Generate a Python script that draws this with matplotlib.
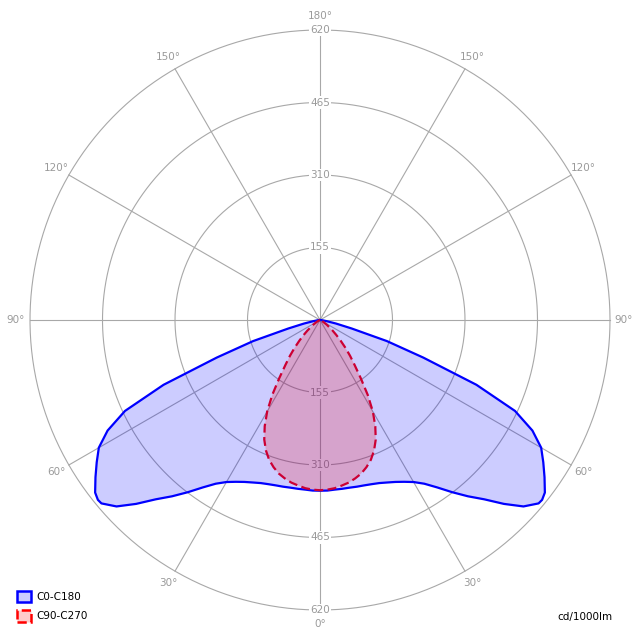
import numpy as np
import matplotlib
matplotlib.use("Agg")
import matplotlib.pyplot as plt
from matplotlib.patches import Patch

# gamma angles (deg) and intensities (cd/1000lm)
gamma_c0 = [0, 2.5, 5, 7.5, 10, 12.5, 15, 17.5, 20, 22.5, 25, 27.5, 30, 32.5, 35, 37.5,
            40, 42.5, 45, 47.5, 50, 51, 52.5, 55, 57.5, 60, 62.5, 65, 67.5, 70, 72.5,
            75, 77.5, 80, 85, 90]
cd_c0 = [365, 365, 364, 364, 364, 365, 366, 368, 371, 376, 382, 390, 400, 415, 437, 464,
         492, 520, 556, 590, 610, 611, 606, 586, 566, 546, 512, 460, 362, 235, 150,
         70, 35, 15, 4, 0]

gamma_c90 = [0, 2.5, 5, 7.5, 10, 12.5, 15, 17.5, 20, 22.5, 25, 27.5, 30, 32.5, 35, 37.5,
             40, 42.5, 45, 47.5, 50, 55, 60, 70, 90]
cd_c90 = [364, 363, 361, 357, 353, 347, 340, 330, 318, 302, 282, 256, 226, 190, 152, 122,
          100, 80, 62, 47, 35, 18, 8, 2, 0]

r_ticks = [155, 310, 465, 620]
angle_ticks = [0, 30, 60, 90, 120, 150, 180]
series_labels = ["C0-C180", "C90-C270"]
unit_label = "cd/1000lm"

def full_curve(g, v):
    g = np.asarray(g, float)
    v = np.asarray(v, float)
    th = np.concatenate([-g[::-1], g[1:]])
    rr = np.concatenate([v[::-1], v[1:]])
    return np.deg2rad(th), rr

fig = plt.figure(figsize=(6.4, 6.4), dpi=100)
rmax = 640.0
R_px = 290.0 * rmax / 620.0
size = 2 * R_px / 640.0
left = (320 - R_px) / 640.0
ax = fig.add_axes([left, left, size, size], projection="polar")
ax.set_theta_zero_location("S")
ax.set_theta_direction(1)
ax.set_ylim(0, rmax)
ax.spines["polar"].set_visible(False)
ax.set_xticks([])
ax.set_yticks([])
ax.grid(False)
ax.set_facecolor("white")

gcol = "#a8a8a8"
tt = np.linspace(0, 2 * np.pi, 400)
for r in r_ticks:
    ax.plot(tt, np.full_like(tt, r), color=gcol, lw=0.8, zorder=1)
for a in range(0, 360, 30):
    ax.plot([np.deg2rad(a)] * 2, [0, r_ticks[-1]], color=gcol, lw=0.8, zorder=1)

lab_col = "#9a9a9a"
for r in r_ticks:
    for ang in (180, 0):
        ax.text(np.deg2rad(ang), r, str(r), ha="center", va="center", fontsize=7.5,
                color=lab_col, zorder=2,
                bbox=dict(boxstyle="square,pad=0.12", fc="white", ec="none"))

lab_r = 304.0 / 290.0 * 620.0
for a in angle_ticks:
    for s in ([1, -1] if a not in (0, 180) else [1]):
        th = np.deg2rad(s * a)
        ax.text(th, lab_r, f"{a}°", ha="center", va="center", fontsize=7.5,
                color=lab_col, clip_on=False, zorder=2)

th1, r1 = full_curve(gamma_c0, cd_c0)
ax.fill(th1, r1, color=(0, 0, 1, 0.2), lw=0, zorder=3)
ax.plot(th1, r1, color="#0000ff", lw=1.6, zorder=5, solid_joinstyle="round")

th2, r2 = full_curve(gamma_c90, cd_c90)
ax.fill(th2, r2, color=(1, 0, 0, 0.2), lw=0, zorder=4)
ax.plot(th2, r2, color="#cc0033", lw=1.6, ls=(0, (4, 2)), zorder=6)

handles = [Patch(facecolor=(0.8, 0.8, 1.0), edgecolor="#0000ff", lw=1.8),
           Patch(facecolor=(1.0, 0.8, 0.8), edgecolor="#ff0000", lw=1.8, ls="--")]
fig.legend(handles, series_labels, loc="lower left", bbox_to_anchor=(0.012, 0.014),
           frameon=False, fontsize=7.5, handlelength=1.3, handleheight=1.3,
           handletextpad=0.55, labelspacing=0.75)

fig.text(585 / 640, 1 - 617 / 640, unit_label, ha="center", va="center", fontsize=7.5, color="black")

fig.savefig("out.png", dpi=100, facecolor="white")
